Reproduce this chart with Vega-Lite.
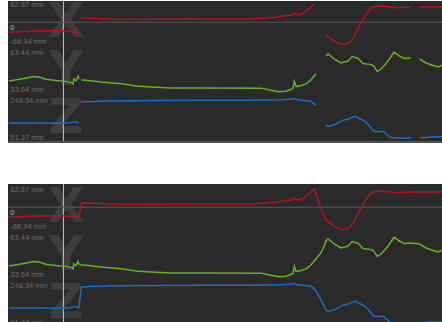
{
  "$schema": "https://vega.github.io/schema/vega-lite/v6.json",
  "padding": {"left": 7, "top": 0, "right": 0, "bottom": 0},
  "background": "white",
  "spacing": 39,
  "config": {"view": {"fill": "#2a2a2a", "stroke": null}},
  "datasets": {
    "labels": [
      {"a": "X", "pos": "top", "text": "62.87 mm", "v": 62.87},
      {"a": "X", "pos": "zero", "text": "0", "v": 0},
      {"a": "X", "pos": "bottom", "text": "-66.94 mm", "v": -66.94},
      {"a": "Y", "pos": "top", "text": "63.44 mm", "v": 63.44},
      {"a": "Y", "pos": "bottom", "text": "33.64 mm", "v": 33.64},
      {"a": "Z", "pos": "top", "text": "248.34 mm", "v": 248.34},
      {"a": "Z", "pos": "bottom", "text": "91.37 mm", "v": 91.37}
    ],
    "traj": [
      {"a": "X", "t": 95, "v": -27.2, "s": 1},
      {"a": "X", "t": 129, "v": -25.8, "s": 1},
      {"a": "X", "t": 157, "v": -24.5, "s": 1},
      {"a": "X", "t": 184, "v": -23.4, "s": 1},
      {"a": "X", "t": 212, "v": -22.9, "s": 1},
      {"a": "X", "t": 240, "v": -23.1, "s": 1},
      {"a": "X", "t": 254, "v": -23.7, "s": 1},
      {"a": "X", "t": 268, "v": -25.0, "s": 1},
      {"a": "X", "t": 274, "v": -26.9, "s": 1},
      {"a": "X", "t": 279, "v": -25.3, "s": 1},
      {"a": "X", "t": 285, "v": -28.0, "s": 1},
      {"a": "X", "t": 290, "v": -27.7, "s": 1},
      {"a": "X", "t": 297, "v": 11.5, "s": 2},
      {"a": "X", "t": 324, "v": 10.7, "s": 2},
      {"a": "X", "t": 380, "v": 8.8, "s": 2},
      {"a": "X", "t": 491, "v": 8.3, "s": 2},
      {"a": "X", "t": 631, "v": 8.8, "s": 2},
      {"a": "X", "t": 770, "v": 8.8, "s": 2},
      {"a": "X", "t": 798, "v": 10.7, "s": 2},
      {"a": "X", "t": 826, "v": 12.3, "s": 2},
      {"a": "X", "t": 854, "v": 16.1, "s": 2},
      {"a": "X", "t": 882, "v": 19.6, "s": 2},
      {"a": "X", "t": 887, "v": 21.8, "s": 2},
      {"a": "X", "t": 891, "v": 25.8, "s": 2},
      {"a": "X", "t": 896, "v": 20.9, "s": 2},
      {"a": "X", "t": 901, "v": 19.6, "s": 2},
      {"a": "X", "t": 910, "v": 20.9, "s": 2},
      {"a": "X", "t": 918, "v": 26.4, "s": 2},
      {"a": "X", "t": 932, "v": 35.8, "s": 2},
      {"a": "X", "t": 940, "v": 43.9, "s": 2},
      {"a": "X", "t": 947, "v": 49.4, "s": 2},
      {"a": "X", "t": 960, "v": 12.3, "s": 0},
      {"a": "X", "t": 971, "v": -19.1, "s": 0},
      {"a": "X", "t": 979, "v": -33.1, "s": 3},
      {"a": "X", "t": 993, "v": -45.3, "s": 3},
      {"a": "X", "t": 1007, "v": -54.2, "s": 3},
      {"a": "X", "t": 1021, "v": -59.4, "s": 3},
      {"a": "X", "t": 1035, "v": -58.8, "s": 3},
      {"a": "X", "t": 1043, "v": -55.6, "s": 3},
      {"a": "X", "t": 1055, "v": -42.6, "s": 3},
      {"a": "X", "t": 1063, "v": -27.7, "s": 3},
      {"a": "X", "t": 1077, "v": -2.0, "s": 3},
      {"a": "X", "t": 1091, "v": 21.0, "s": 3},
      {"a": "X", "t": 1105, "v": 38.5, "s": 3},
      {"a": "X", "t": 1119, "v": 43.1, "s": 3},
      {"a": "X", "t": 1133, "v": 43.9, "s": 3},
      {"a": "X", "t": 1160, "v": 41.2, "s": 3},
      {"a": "X", "t": 1174, "v": 39.0, "s": 3},
      {"a": "X", "t": 1188, "v": 39.9, "s": 3},
      {"a": "X", "t": 1216, "v": 41.2, "s": 3},
      {"a": "X", "t": 1227, "v": 41.2, "s": 0},
      {"a": "X", "t": 1240, "v": 41.2, "s": 4},
      {"a": "X", "t": 1272, "v": 41.5, "s": 4},
      {"a": "X", "t": 1305, "v": 41.8, "s": 4},

      {"a": "Y", "t": 95, "v": 42.3, "s": 1},
      {"a": "Y", "t": 129, "v": 43.6, "s": 1},
      {"a": "Y", "t": 165, "v": 45.1, "s": 1},
      {"a": "Y", "t": 184, "v": 44.5, "s": 1},
      {"a": "Y", "t": 198, "v": 43.4, "s": 1},
      {"a": "Y", "t": 226, "v": 42.6, "s": 1},
      {"a": "Y", "t": 254, "v": 42.1, "s": 1},
      {"a": "Y", "t": 268, "v": 41.5, "s": 1},
      {"a": "Y", "t": 274, "v": 40.5, "s": 1},
      {"a": "Y", "t": 276, "v": 43.6, "s": 1},
      {"a": "Y", "t": 282, "v": 42.6, "s": 1},
      {"a": "Y", "t": 288, "v": 45.3, "s": 1},
      {"a": "Y", "t": 290, "v": 43.6, "s": 1},
      {"a": "Y", "t": 297, "v": 42.9, "s": 2},
      {"a": "Y", "t": 310, "v": 42.8, "s": 2},
      {"a": "Y", "t": 352, "v": 41.7, "s": 2},
      {"a": "Y", "t": 408, "v": 40.7, "s": 2},
      {"a": "Y", "t": 449, "v": 39.2, "s": 2},
      {"a": "Y", "t": 491, "v": 38.6, "s": 2},
      {"a": "Y", "t": 547, "v": 38.0, "s": 2},
      {"a": "Y", "t": 631, "v": 38.0, "s": 2},
      {"a": "Y", "t": 798, "v": 37.9, "s": 2},
      {"a": "Y", "t": 826, "v": 36.6, "s": 2},
      {"a": "Y", "t": 848, "v": 35.7, "s": 2},
      {"a": "Y", "t": 868, "v": 36.0, "s": 2},
      {"a": "Y", "t": 882, "v": 37.2, "s": 2},
      {"a": "Y", "t": 887, "v": 37.7, "s": 2},
      {"a": "Y", "t": 891, "v": 42.1, "s": 2},
      {"a": "Y", "t": 896, "v": 38.9, "s": 2},
      {"a": "Y", "t": 910, "v": 39.5, "s": 2},
      {"a": "Y", "t": 924, "v": 40.5, "s": 2},
      {"a": "Y", "t": 937, "v": 42.9, "s": 2},
      {"a": "Y", "t": 951, "v": 46.7, "s": 2},
      {"a": "Y", "t": 965, "v": 50.4, "s": 0},
      {"a": "Y", "t": 974, "v": 54.7, "s": 0},
      {"a": "Y", "t": 979, "v": 57.9, "s": 3},
      {"a": "Y", "t": 985, "v": 59.1, "s": 3},
      {"a": "Y", "t": 1002, "v": 56.0, "s": 3},
      {"a": "Y", "t": 1021, "v": 53.5, "s": 3},
      {"a": "Y", "t": 1041, "v": 54.7, "s": 3},
      {"a": "Y", "t": 1052, "v": 57.5, "s": 3},
      {"a": "Y", "t": 1069, "v": 56.3, "s": 3},
      {"a": "Y", "t": 1082, "v": 53.2, "s": 3},
      {"a": "Y", "t": 1105, "v": 52.5, "s": 3},
      {"a": "Y", "t": 1113, "v": 51.5, "s": 3},
      {"a": "Y", "t": 1122, "v": 48.2, "s": 3},
      {"a": "Y", "t": 1133, "v": 49.8, "s": 3},
      {"a": "Y", "t": 1152, "v": 54.6, "s": 3},
      {"a": "Y", "t": 1169, "v": 60.3, "s": 3},
      {"a": "Y", "t": 1183, "v": 58.0, "s": 3},
      {"a": "Y", "t": 1197, "v": 56.3, "s": 3},
      {"a": "Y", "t": 1216, "v": 56.6, "s": 3},
      {"a": "Y", "t": 1227, "v": 56.3, "s": 0},
      {"a": "Y", "t": 1240, "v": 56.0, "s": 4},
      {"a": "Y", "t": 1258, "v": 53.5, "s": 4},
      {"a": "Y", "t": 1278, "v": 52.0, "s": 4},
      {"a": "Y", "t": 1292, "v": 51.0, "s": 4},
      {"a": "Y", "t": 1305, "v": 52.3, "s": 4},

      {"a": "Z", "t": 95, "v": 156.8, "s": 1},
      {"a": "Z", "t": 157, "v": 156.8, "s": 1},
      {"a": "Z", "t": 240, "v": 156.1, "s": 1},
      {"a": "Z", "t": 268, "v": 158.4, "s": 1},
      {"a": "Z", "t": 282, "v": 161.7, "s": 1},
      {"a": "Z", "t": 288, "v": 157.4, "s": 1},
      {"a": "Z", "t": 290, "v": 156.8, "s": 1},
      {"a": "Z", "t": 297, "v": 225.4, "s": 2},
      {"a": "Z", "t": 324, "v": 227.1, "s": 2},
      {"a": "Z", "t": 380, "v": 228.7, "s": 2},
      {"a": "Z", "t": 491, "v": 230.4, "s": 2},
      {"a": "Z", "t": 631, "v": 231.0, "s": 2},
      {"a": "Z", "t": 770, "v": 231.3, "s": 2},
      {"a": "Z", "t": 854, "v": 233.0, "s": 2},
      {"a": "Z", "t": 887, "v": 235.3, "s": 2},
      {"a": "Z", "t": 891, "v": 237.5, "s": 2},
      {"a": "Z", "t": 898, "v": 232.6, "s": 2},
      {"a": "Z", "t": 910, "v": 231.0, "s": 2},
      {"a": "Z", "t": 937, "v": 227.7, "s": 2},
      {"a": "Z", "t": 951, "v": 214.0, "s": 2},
      {"a": "Z", "t": 965, "v": 183.9, "s": 0},
      {"a": "Z", "t": 974, "v": 163.3, "s": 0},
      {"a": "Z", "t": 979, "v": 149.2, "s": 3},
      {"a": "Z", "t": 988, "v": 146.3, "s": 3},
      {"a": "Z", "t": 1007, "v": 153.5, "s": 3},
      {"a": "Z", "t": 1027, "v": 165.9, "s": 3},
      {"a": "Z", "t": 1043, "v": 170.5, "s": 3},
      {"a": "Z", "t": 1057, "v": 178.0, "s": 3},
      {"a": "Z", "t": 1065, "v": 178.0, "s": 3},
      {"a": "Z", "t": 1071, "v": 171.5, "s": 3},
      {"a": "Z", "t": 1082, "v": 166.6, "s": 3},
      {"a": "Z", "t": 1096, "v": 153.5, "s": 3},
      {"a": "Z", "t": 1105, "v": 140.4, "s": 3},
      {"a": "Z", "t": 1113, "v": 129.0, "s": 3},
      {"a": "Z", "t": 1127, "v": 130.0, "s": 3},
      {"a": "Z", "t": 1141, "v": 128.0, "s": 3},
      {"a": "Z", "t": 1149, "v": 119.2, "s": 3},
      {"a": "Z", "t": 1160, "v": 109.4, "s": 3},
      {"a": "Z", "t": 1188, "v": 106.8, "s": 3},
      {"a": "Z", "t": 1216, "v": 107.7, "s": 3},
      {"a": "Z", "t": 1227, "v": 108.4, "s": 0},
      {"a": "Z", "t": 1240, "v": 108.7, "s": 4},
      {"a": "Z", "t": 1272, "v": 111.0, "s": 4},
      {"a": "Z", "t": 1305, "v": 112.0, "s": 4}
    ]
  },
  "vconcat": [
    {
      "spacing": 0,
      "bounds": "flush",
      "vconcat": [
        {
          "width": 435, "height": 46,
          "layer": [
            {"data": {"values": [{"a": "X"}]}, "mark": {"type": "text", "font": "DejaVu Sans", "fontWeight": "bold", "fontSize": 48, "color": "#3e3e3e", "align": "center", "baseline": "middle", "clip": true}, "encoding": {"x": {"datum": 254, "axis": null}, "y": {"datum": -2.035, "axis": null}, "text": {"field": "a"}}},
            {"data": {"values": [{"c": 1}]}, "mark": {"type": "rule", "color": "#c8c8c8", "strokeWidth": 1}, "encoding": {"x": {"datum": 247, "axis": null}}},
            {"data": {"values": [{"c": 1}]}, "mark": {"type": "rule", "color": "#5c5c5c", "strokeWidth": 1}, "encoding": {"y": {"datum": 0, "axis": null}}},
            {"data": {"name": "labels"}, "transform": [{"filter": "datum.a==='X' && datum.pos!=='bottom'"}], "mark": {"type": "text", "font": "Liberation Sans", "fontSize": 7.5, "align": "left", "baseline": "alphabetic", "dy": 8, "clip": true}, "encoding": {"x": {"datum": 99, "axis": null}, "y": {"field": "v", "type": "quantitative", "axis": null}, "text": {"field": "text"}, "color": {"condition": {"test": "datum.pos==='zero'", "value": "#b4b4b4"}, "value": "#6e6e6e"}}},
            {"data": {"name": "labels"}, "transform": [{"filter": "datum.a==='X' && datum.pos==='bottom'"}], "mark": {"type": "text", "font": "Liberation Sans", "fontSize": 7.5, "align": "left", "baseline": "alphabetic", "dy": -3, "clip": true, "color": "#6e6e6e"}, "encoding": {"x": {"datum": 99, "axis": null}, "y": {"field": "v", "type": "quantitative", "axis": null}, "text": {"field": "text"}}},
            {"data": {"name": "traj"}, "transform": [{"filter": "datum.a==='X' && datum.s>0"}], "mark": {"type": "line", "color": "#b8141c", "strokeWidth": 1.5, "clip": true}, "encoding": {
              "x": {"field": "t", "type": "quantitative", "scale": {"domain": [92.5, 1305.5], "nice": false, "zero": false}, "axis": {"orient": "top", "grid": true, "gridColor": "#383838", "gridDash": [2, 2], "labels": false, "ticks": false, "domain": false, "title": null, "values": [100, 200, 300, 400, 500, 600, 700, 800, 900, 1000, 1100, 1200, 1300]}},
              "y": {"field": "v", "type": "quantitative", "scale": {"domain": [-66.94, 57.46], "nice": false, "zero": false}, "axis": null},
              "detail": {"field": "s"}}}
          ]
        },
        {
          "width": 435, "height": 48,
          "layer": [
            {"data": {"values": [{"a": "Y"}]}, "mark": {"type": "text", "font": "DejaVu Sans", "fontWeight": "bold", "fontSize": 48, "color": "#3e3e3e", "align": "center", "baseline": "middle", "clip": true}, "encoding": {"x": {"datum": 254, "axis": null}, "y": {"datum": 48.54, "axis": null}, "text": {"field": "a"}}},
            {"data": {"values": [{"c": 1}]}, "mark": {"type": "rule", "color": "#c8c8c8", "strokeWidth": 1}, "encoding": {"x": {"datum": 247, "axis": null}}},
            {"data": {"name": "labels"}, "transform": [{"filter": "datum.a==='Y' && datum.pos!=='bottom'"}], "mark": {"type": "text", "font": "Liberation Sans", "fontSize": 7.5, "align": "left", "baseline": "alphabetic", "dy": 8, "clip": true, "color": "#6e6e6e"}, "encoding": {"x": {"datum": 99, "axis": null}, "y": {"field": "v", "type": "quantitative", "axis": null}, "text": {"field": "text"}}},
            {"data": {"name": "labels"}, "transform": [{"filter": "datum.a==='Y' && datum.pos==='bottom'"}], "mark": {"type": "text", "font": "Liberation Sans", "fontSize": 7.5, "align": "left", "baseline": "alphabetic", "dy": -3, "clip": true, "color": "#6e6e6e"}, "encoding": {"x": {"datum": 99, "axis": null}, "y": {"field": "v", "type": "quantitative", "axis": null}, "text": {"field": "text"}}},
            {"data": {"name": "traj"}, "transform": [{"filter": "datum.a==='Y' && datum.s>0"}], "mark": {"type": "line", "color": "#67b21f", "strokeWidth": 1.5, "clip": true}, "encoding": {
              "x": {"field": "t", "type": "quantitative", "scale": {"domain": [92.5, 1305.5], "nice": false, "zero": false}, "axis": {"orient": "top", "grid": true, "gridColor": "#383838", "gridDash": [2, 2], "labels": false, "ticks": false, "domain": true, "domainColor": "#3e3e3e", "domainWidth": 2, "title": null, "values": [100, 200, 300, 400, 500, 600, 700, 800, 900, 1000, 1100, 1200, 1300]}},
              "y": {"field": "v", "type": "quantitative", "scale": {"domain": [33.64, 63.44], "nice": false, "zero": false}, "axis": null},
              "detail": {"field": "s"}}}
          ]
        },
        {
          "width": 435, "height": 48,
          "layer": [
            {"data": {"values": [{"a": "Z"}]}, "mark": {"type": "text", "font": "DejaVu Sans", "fontWeight": "bold", "fontSize": 48, "color": "#3e3e3e", "align": "center", "baseline": "middle", "clip": true}, "encoding": {"x": {"datum": 254, "axis": null}, "y": {"datum": 169.855, "axis": null}, "text": {"field": "a"}}},
            {"data": {"values": [{"c": 1}]}, "mark": {"type": "rule", "color": "#c8c8c8", "strokeWidth": 1}, "encoding": {"x": {"datum": 247, "axis": null}}},
            {"data": {"values": [{"c": 1}]}, "mark": {"type": "rule", "color": "#505050", "strokeWidth": 2}, "encoding": {"y": {"datum": 94.6, "axis": null}}},
            {"data": {"name": "labels"}, "transform": [{"filter": "datum.a==='Z' && datum.pos!=='bottom'"}], "mark": {"type": "text", "font": "Liberation Sans", "fontSize": 7.5, "align": "left", "baseline": "alphabetic", "dy": 8, "clip": true, "color": "#6e6e6e"}, "encoding": {"x": {"datum": 99, "axis": null}, "y": {"field": "v", "type": "quantitative", "axis": null}, "text": {"field": "text"}}},
            {"data": {"name": "labels"}, "transform": [{"filter": "datum.a==='Z' && datum.pos==='bottom'"}], "mark": {"type": "text", "font": "Liberation Sans", "fontSize": 7.5, "align": "left", "baseline": "alphabetic", "dy": -3.5, "clip": true, "color": "#6e6e6e"}, "encoding": {"x": {"datum": 99, "axis": null}, "y": {"field": "v", "type": "quantitative", "axis": null}, "text": {"field": "text"}}},
            {"data": {"name": "traj"}, "transform": [{"filter": "datum.a==='Z' && datum.s>0"}], "mark": {"type": "line", "color": "#1b6fc4", "strokeWidth": 1.5, "clip": true}, "encoding": {
              "x": {"field": "t", "type": "quantitative", "scale": {"domain": [92.5, 1305.5], "nice": false, "zero": false}, "axis": {"orient": "top", "grid": true, "gridColor": "#383838", "gridDash": [2, 2], "labels": false, "ticks": false, "domain": true, "domainColor": "#3e3e3e", "domainWidth": 2, "title": null, "values": [100, 200, 300, 400, 500, 600, 700, 800, 900, 1000, 1100, 1200, 1300]}},
              "y": {"field": "v", "type": "quantitative", "scale": {"domain": [91.37, 248.34], "nice": false, "zero": false}, "axis": null},
              "detail": {"field": "s"}}}
          ]
        }
      ]
    },
    {
      "spacing": 0,
      "bounds": "flush",
      "vconcat": [
        {
          "width": 435, "height": 48,
          "layer": [
            {"data": {"values": [{"a": "X"}]}, "mark": {"type": "text", "font": "DejaVu Sans", "fontWeight": "bold", "fontSize": 48, "color": "#3e3e3e", "align": "center", "baseline": "middle", "clip": true}, "encoding": {"x": {"datum": 254, "axis": null}, "y": {"datum": -2.035, "axis": null}, "text": {"field": "a"}}},
            {"data": {"values": [{"c": 1}]}, "mark": {"type": "rule", "color": "#c8c8c8", "strokeWidth": 1}, "encoding": {"x": {"datum": 247, "axis": null}}},
            {"data": {"values": [{"c": 1}]}, "mark": {"type": "rule", "color": "#5c5c5c", "strokeWidth": 1}, "encoding": {"y": {"datum": 0, "axis": null}}},
            {"data": {"name": "labels"}, "transform": [{"filter": "datum.a==='X' && datum.pos!=='bottom'"}], "mark": {"type": "text", "font": "Liberation Sans", "fontSize": 7.5, "align": "left", "baseline": "alphabetic", "dy": 8, "clip": true}, "encoding": {"x": {"datum": 99, "axis": null}, "y": {"field": "v", "type": "quantitative", "axis": null}, "text": {"field": "text"}, "color": {"condition": {"test": "datum.pos==='zero'", "value": "#b4b4b4"}, "value": "#6e6e6e"}}},
            {"data": {"name": "labels"}, "transform": [{"filter": "datum.a==='X' && datum.pos==='bottom'"}], "mark": {"type": "text", "font": "Liberation Sans", "fontSize": 7.5, "align": "left", "baseline": "alphabetic", "dy": -3, "clip": true, "color": "#6e6e6e"}, "encoding": {"x": {"datum": 99, "axis": null}, "y": {"field": "v", "type": "quantitative", "axis": null}, "text": {"field": "text"}}},
            {"data": {"name": "traj"}, "transform": [{"filter": "datum.a==='X'"}], "mark": {"type": "line", "color": "#b8141c", "strokeWidth": 1.5, "clip": true}, "encoding": {
              "x": {"field": "t", "type": "quantitative", "scale": {"domain": [92.5, 1305.5], "nice": false, "zero": false}, "axis": {"orient": "top", "grid": true, "gridColor": "#383838", "gridDash": [2, 2], "labels": false, "ticks": false, "domain": false, "title": null, "values": [100, 200, 300, 400, 500, 600, 700, 800, 900, 1000, 1100, 1200, 1300]}},
              "y": {"field": "v", "type": "quantitative", "scale": {"domain": [-66.94, 62.87], "nice": false, "zero": false}, "axis": null}}}
          ]
        },
        {
          "width": 435, "height": 48,
          "layer": [
            {"data": {"values": [{"a": "Y"}]}, "mark": {"type": "text", "font": "DejaVu Sans", "fontWeight": "bold", "fontSize": 48, "color": "#3e3e3e", "align": "center", "baseline": "middle", "clip": true}, "encoding": {"x": {"datum": 254, "axis": null}, "y": {"datum": 48.54, "axis": null}, "text": {"field": "a"}}},
            {"data": {"values": [{"c": 1}]}, "mark": {"type": "rule", "color": "#c8c8c8", "strokeWidth": 1}, "encoding": {"x": {"datum": 247, "axis": null}}},
            {"data": {"name": "labels"}, "transform": [{"filter": "datum.a==='Y' && datum.pos!=='bottom'"}], "mark": {"type": "text", "font": "Liberation Sans", "fontSize": 7.5, "align": "left", "baseline": "alphabetic", "dy": 8, "clip": true, "color": "#6e6e6e"}, "encoding": {"x": {"datum": 99, "axis": null}, "y": {"field": "v", "type": "quantitative", "axis": null}, "text": {"field": "text"}}},
            {"data": {"name": "labels"}, "transform": [{"filter": "datum.a==='Y' && datum.pos==='bottom'"}], "mark": {"type": "text", "font": "Liberation Sans", "fontSize": 7.5, "align": "left", "baseline": "alphabetic", "dy": -3, "clip": true, "color": "#6e6e6e"}, "encoding": {"x": {"datum": 99, "axis": null}, "y": {"field": "v", "type": "quantitative", "axis": null}, "text": {"field": "text"}}},
            {"data": {"name": "traj"}, "transform": [{"filter": "datum.a==='Y'"}], "mark": {"type": "line", "color": "#67b21f", "strokeWidth": 1.5, "clip": true}, "encoding": {
              "x": {"field": "t", "type": "quantitative", "scale": {"domain": [92.5, 1305.5], "nice": false, "zero": false}, "axis": {"orient": "top", "grid": true, "gridColor": "#383838", "gridDash": [2, 2], "labels": false, "ticks": false, "domain": true, "domainColor": "#3e3e3e", "domainWidth": 2, "title": null, "values": [100, 200, 300, 400, 500, 600, 700, 800, 900, 1000, 1100, 1200, 1300]}},
              "y": {"field": "v", "type": "quantitative", "scale": {"domain": [33.64, 63.44], "nice": false, "zero": false}, "axis": null}}}
          ]
        },
        {
          "width": 435, "height": 45,
          "layer": [
            {"data": {"values": [{"a": "Z"}]}, "mark": {"type": "text", "font": "DejaVu Sans", "fontWeight": "bold", "fontSize": 48, "color": "#3e3e3e", "align": "center", "baseline": "middle", "clip": true}, "encoding": {"x": {"datum": 254, "axis": null}, "y": {"datum": 169.855, "axis": null}, "text": {"field": "a"}}},
            {"data": {"values": [{"c": 1}]}, "mark": {"type": "rule", "color": "#c8c8c8", "strokeWidth": 1}, "encoding": {"x": {"datum": 247, "axis": null}}},
            {"data": {"name": "labels"}, "transform": [{"filter": "datum.a==='Z' && datum.pos!=='bottom'"}], "mark": {"type": "text", "font": "Liberation Sans", "fontSize": 7.5, "align": "left", "baseline": "alphabetic", "dy": 8, "clip": true, "color": "#6e6e6e"}, "encoding": {"x": {"datum": 99, "axis": null}, "y": {"field": "v", "type": "quantitative", "axis": null}, "text": {"field": "text"}}},
            {"data": {"name": "labels"}, "transform": [{"filter": "datum.a==='Z' && datum.pos==='bottom'"}], "mark": {"type": "text", "font": "Liberation Sans", "fontSize": 7.5, "align": "left", "baseline": "alphabetic", "dy": -3, "clip": true, "color": "#6e6e6e"}, "encoding": {"x": {"datum": 99, "axis": null}, "y": {"field": "v", "type": "quantitative", "axis": null}, "text": {"field": "text"}}},
            {"data": {"name": "traj"}, "transform": [{"filter": "datum.a==='Z'"}], "mark": {"type": "line", "color": "#1b6fc4", "strokeWidth": 1.5, "clip": true}, "encoding": {
              "x": {"field": "t", "type": "quantitative", "scale": {"domain": [92.5, 1305.5], "nice": false, "zero": false}, "axis": {"orient": "top", "grid": true, "gridColor": "#383838", "gridDash": [2, 2], "labels": false, "ticks": false, "domain": true, "domainColor": "#3e3e3e", "domainWidth": 2, "title": null, "values": [100, 200, 300, 400, 500, 600, 700, 800, 900, 1000, 1100, 1200, 1300]}},
              "y": {"field": "v", "type": "quantitative", "scale": {"domain": [101.19, 248.34], "nice": false, "zero": false}, "axis": null}}}
          ]
        }
      ]
    }
  ]
}
